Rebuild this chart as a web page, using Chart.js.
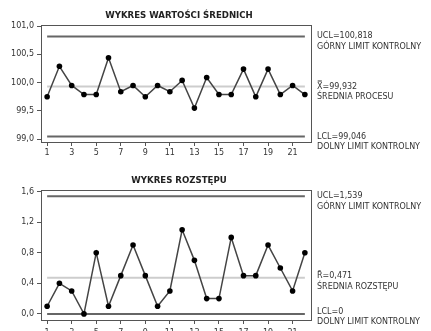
<!DOCTYPE html>
<html>
<head>
<meta charset="utf-8">
<script src="https://cdn.jsdelivr.net/npm/chart.js@4/dist/chart.umd.min.js"></script>
<style>
body { margin: 0; background: #fff; }
canvas { display: block; }
</style>
</head>
<body>
<canvas id="chartMean" width="431" height="165"></canvas>
<canvas id="chartRange" width="431" height="166"></canvas>
<script>
"use strict";

// numery podgrup
let samples = [1, 2, 3, 4, 5, 6, 7, 8, 9, 10, 11, 12, 13, 14, 15, 16, 17, 18, 19, 20, 21, 22];

// wartosci srednie
let means = [99.75, 100.29, 99.95, 99.79, 99.79, 100.44, 99.84, 99.95, 99.75, 99.95, 99.84,
             100.04, 99.55, 100.09, 99.79, 99.79, 100.24, 99.75, 100.24, 99.79, 99.95, 99.79];
let meanUCL = 100.818;
let meanCL = 99.932;
let meanLCL = 99.046;
let meanTicks = [99.0, 99.5, 100.0, 100.5, 101.0];

// rozstepy
let ranges = [0.1, 0.4, 0.3, 0.0, 0.8, 0.1, 0.5, 0.9, 0.5, 0.1, 0.3,
              1.1, 0.7, 0.2, 0.2, 1.0, 0.5, 0.5, 0.9, 0.6, 0.3, 0.8];
let rangeUCL = 1.539;
let rangeCL = 0.471;
let rangeLCL = 0;
let rangeTicks = [0.0, 0.4, 0.8, 1.2, 1.6];

let fontFamily = "'DejaVu Sans', Verdana, sans-serif";

function comma(v, d)
{
    return v.toFixed(d).replace(".", ",");
}

function flat(v)
{
    return samples.map(function () { return v; });
}

// tytul, ramka i opisy linii po prawej
let sidePlugin = {
    id: "side",
    afterDraw: function (chart, args, opts)
    {
        let ctx = chart.ctx;
        let area = chart.chartArea;
        let y = chart.scales.y;
        ctx.save();
        ctx.strokeStyle = "#555";
        ctx.lineWidth = 1;
        ctx.strokeRect(area.left + 0.5, area.top + 0.5, area.right - area.left, area.bottom - area.top);

        ctx.fillStyle = "#222";
        ctx.textAlign = "center";
        ctx.textBaseline = "middle";
        ctx.font = "bold 8.6px " + fontFamily;
        ctx.fillText(opts.title, (area.left + area.right) / 2 + 3, 16);

        ctx.textAlign = "left";
        ctx.font = "8px " + fontFamily;
        ctx.fillStyle = "#333";
        for (let i in opts.notes)
        {
            let n = opts.notes[i];
            let py = y.getPixelForValue(n.value) + (n.dy || 0);
            ctx.fillText(n.lines[0], area.right + 6, py);
            ctx.fillText(n.lines[1], area.right + 6, py + 10.5);
        }
        ctx.restore();
    }
};

function makeChart(canvasId, values, ucl, cl, lcl, yTicks, yMin, yMax, axisHeight, xPad, title, notes)
{
    let ctx = document.getElementById(canvasId).getContext("2d");
    return new Chart(ctx, {
        type: "line",
        data: {
            labels: samples,
            datasets: [
                {
                    data: values,
                    borderColor: "#444",
                    borderWidth: 1.5,
                    pointRadius: 2.8,
                    pointBackgroundColor: "#000",
                    pointBorderColor: "#000",
                    pointBorderWidth: 0,
                    tension: 0,
                    order: 0
                },
                { data: flat(ucl), borderColor: "#666", borderWidth: 2, pointRadius: 0, order: 1 },
                { data: flat(cl), borderColor: "#cdcdcd", borderWidth: 2, pointRadius: 0, order: 2 },
                { data: flat(lcl), borderColor: "#666", borderWidth: 2, pointRadius: 0, order: 1 }
            ]
        },
        options: {
            responsive: false,
            animation: false,
            events: [],
            layout: { padding: { top: 25, right: 120, bottom: 0, left: 0 } },
            plugins: {
                legend: { display: false },
                tooltip: { enabled: false },
                side: { title: title, notes: notes }
            },
            scales: {
                x: {
                    type: "category",
                    offset: true,
                    afterBuildTicks: function (scale)
                    {
                        scale.ticks = scale.ticks.filter(function (t) { return t.value % 2 === 0; });
                    },
                    afterFit: function (scale) { scale.height = axisHeight; },
                    grid: { drawOnChartArea: false, tickLength: 4, color: "#555", offset: false },
                    border: { color: "#555" },
                    ticks: {
                        autoSkip: false,
                        maxRotation: 0,
                        padding: xPad,
                        color: "#333",
                        font: { family: fontFamily, size: 8 }
                    }
                },
                y: {
                    min: yMin,
                    max: yMax,
                    afterBuildTicks: function (scale)
                    {
                        scale.ticks = yTicks.map(function (v) { return { value: v }; });
                    },
                    afterFit: function (scale) { scale.width = 41; },
                    grid: { drawOnChartArea: false, tickLength: 4, color: "#555" },
                    border: { color: "#555" },
                    ticks: {
                        padding: 3,
                        color: "#333",
                        font: { family: fontFamily, size: 8 },
                        callback: function (v) { return comma(v, 1); }
                    }
                }
            }
        },
        plugins: [sidePlugin]
    });
}

let meanChart = makeChart("chartMean", means, meanUCL, meanCL, meanLCL, meanTicks, 98.95, 101.02, 23, 2.5,
    "WYKRES WARTOŚCI ŚREDNICH",
    [
        { value: meanUCL, lines: ["UCL=" + comma(meanUCL, 3), "GÓRNY LIMIT KONTROLNY"] },
        { value: meanCL, lines: ["X\u033F=" + comma(meanCL, 3), "ŚREDNIA PROCESU"] },
        { value: meanLCL, lines: ["LCL=" + comma(meanLCL, 3), "DOLNY LIMIT KONTROLNY"] }
    ]);

let rangeChart = makeChart("chartRange", ranges, rangeUCL, rangeCL, rangeLCL, rangeTicks, -0.08, 1.62, 11, 4,
    "WYKRES ROZSTĘPU",
    [
        { value: rangeUCL, lines: ["UCL=" + comma(rangeUCL, 3), "GÓRNY LIMIT KONTROLNY"] },
        { value: rangeCL, dy: -1.5, lines: ["R\u0304=" + comma(rangeCL, 3), "ŚREDNIA ROZSTĘPU"] },
        { value: rangeLCL, dy: -2, lines: ["LCL=" + rangeLCL, "DOLNY LIMIT KONTROLNY"] }
    ]);
</script>
</body>
</html>
